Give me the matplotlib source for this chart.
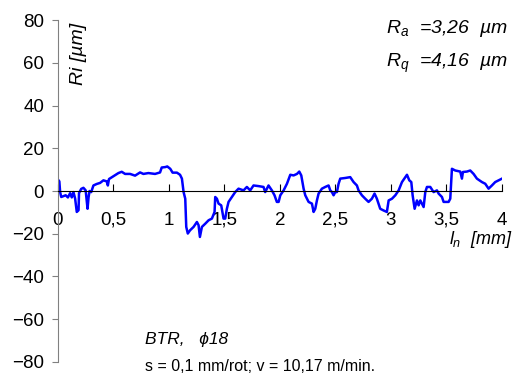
import matplotlib
matplotlib.use("Agg")
import matplotlib.pyplot as plt

plt.rcParams['font.family'] = ['Liberation Sans', 'DejaVu Sans']
plt.rcParams['mathtext.fontset'] = 'custom'
plt.rcParams['mathtext.it'] = 'Liberation Sans:italic'
plt.rcParams['mathtext.rm'] = 'Liberation Sans'

# profile: length [mm], Ri [um]
ln = [0.0, 0.013, 0.02, 0.03, 0.07, 0.09, 0.11, 0.125, 0.14, 0.155, 0.17, 0.186, 0.19,
      0.21, 0.23, 0.25, 0.267, 0.276, 0.285, 0.3, 0.32, 0.35, 0.38, 0.41, 0.44, 0.45,
      0.46, 0.5, 0.545, 0.575, 0.605, 0.65, 0.695, 0.74, 0.77, 0.815, 0.875, 0.92,
      0.935, 0.967, 0.985, 1.012, 1.033, 1.072, 1.1, 1.117, 1.132, 1.147, 1.156, 1.17,
      1.19, 1.222, 1.252, 1.267, 1.279, 1.297, 1.327, 1.357, 1.387, 1.411, 1.417,
      1.432, 1.447, 1.471, 1.492, 1.507, 1.522, 1.537, 1.567, 1.597, 1.627, 1.672,
      1.702, 1.732, 1.762, 1.807, 1.852, 1.867, 1.897, 1.927, 1.951, 1.972, 1.988,
      2.003, 2.033, 2.063, 2.093, 2.123, 2.153, 2.174, 2.192, 2.213, 2.228, 2.258,
      2.288, 2.303, 2.318, 2.333, 2.348, 2.378, 2.408, 2.438, 2.453, 2.468, 2.483,
      2.498, 2.513, 2.528, 2.543, 2.588, 2.633, 2.663, 2.693, 2.708, 2.738, 2.768,
      2.798, 2.828, 2.852, 2.873, 2.888, 2.903, 2.933, 2.963, 2.979, 3.009, 3.039,
      3.069, 3.099, 3.129, 3.144, 3.165, 3.183, 3.195, 3.213, 3.234, 3.249, 3.264,
      3.294, 3.309, 3.324, 3.354, 3.384, 3.414, 3.429, 3.459, 3.474, 3.519, 3.534,
      3.549, 3.579, 3.624, 3.639, 3.648, 3.684, 3.714, 3.744, 3.774, 3.819, 3.849,
      3.879, 3.909, 3.939, 3.969, 4.0]
ri = [5.4, 4.5, -0.5, -2.8, -2.0, -3.0, -1.0, -3.0, -0.5, -3.5, -9.8, -9.0, -1.0,
      1.0, 1.5, 0.3, -8.3, -3.0, 0.0, -0.5, 2.6, 3.3, 3.8, 5.0, 4.5, 2.6,
      5.6, 6.9, 8.4, 9.0, 8.0, 8.0, 7.2, 8.7, 8.0, 8.4, 8.0, 8.7,
      11.0, 11.2, 11.5, 10.4, 8.6, 8.6, 7.6, 5.8, -0.5, -3.6, -16.8, -19.9,
      -18.4, -16.8, -14.5, -16.0, -21.5, -16.8, -15.3, -13.7, -12.9, -9.8, -2.8,
      -3.6, -5.9, -6.7, -12.9, -12.9, -8.3, -5.1, -2.8, -0.5, 1.1, 0.3,
      1.9, 0.3, 2.6, 2.3, 1.9, -0.5, 2.6, 0.3, -2.0, -5.1, -5.1,
      -2.0, 0.3, 3.4, 7.6, 7.3, 8.0, 9.1, 7.3, 1.1, -2.0, -5.1,
      -5.9, -9.8, -8.3, -4.4, -1.2, 1.1, 1.9, 2.6, 0.3, -0.5, -2.0,
      -0.5, -0.5, 3.4, 5.8, 6.1, 6.5, 4.2, 2.6, 0.3, -2.0, -3.6,
      -5.1, -3.6, -1.2, -3.6, -5.9, -8.3, -9.1, -9.8, -4.4, -3.6, -2.0,
      0.3, 4.2, 6.5, 7.6, 5.0, 4.2, -2.0, -8.3, -4.4, -6.7, -4.4,
      -7.5, -0.5, 1.9, 1.9, -0.5, 0.3, -1.2, -2.8, -5.1, -5.1, -3.6,
      10.4, 9.6, 9.1, 5.8, 8.9, 9.1, 9.6, 8.0, 5.8, 4.2, 3.4,
      1.1, 2.6, 4.2, 5.0, 5.8]

xticks = [0, 0.5, 1, 1.5, 2, 2.5, 3, 3.5, 4]
xtick_labels = ['0', '0,5', '1', '1,5', '2', '2,5', '3', '3,5', '4']
yticks = [-80, -60, -40, -20, 0, 20, 40, 60, 80]

fig = plt.figure(figsize=(5.17, 3.79), dpi=100)
ax = fig.add_axes([0.112, 0.045, 0.859, 0.902])

ax.plot(ln, ri, color='#0000ff', lw=1.8)

ax.set_xlim(0, 4)
ax.set_ylim(-80, 80)
ax.spines['top'].set_visible(False)
ax.spines['right'].set_visible(False)
ax.spines['bottom'].set_position(('data', 0))
ax.spines['bottom'].set_color('black')
ax.spines['left'].set_color('#808080')

ax.set_xticks(xticks)
ax.set_xticklabels(xtick_labels)
ax.set_yticks(yticks)
ax.tick_params(axis='x', direction='in', length=5, pad=15, labelsize=13.5)
ax.tick_params(axis='y', direction='out', length=4, color='#808080', pad=6,
               labelsize=13.5)

ax.text(0.047, 0.9, 'Ri [µm]', rotation=90, style='italic', fontsize=14,
        transform=ax.transAxes, ha='center', va='center')
fig.text(0.992, 0.367, r'$l_n$  [mm]', style='italic', fontsize=13,
         ha='right', va='center')

fig.text(0.982, 0.926, r'$R_a$  =3,26  µm', style='italic', fontsize=14,
         ha='right', va='center')
fig.text(0.982, 0.834, r'$R_q$  =4,16  µm', style='italic', fontsize=14,
         ha='right', va='center')
fig.text(0.28, 0.104, 'BTR,   ϕ18', style='italic', fontsize=12.5,
         ha='left', va='center')
fig.text(0.28, 0.033, 's = 0,1 mm/rot; v = 10,17 m/min.', fontsize=11.5,
         ha='left', va='center')

fig.savefig('out.png', dpi=100)
